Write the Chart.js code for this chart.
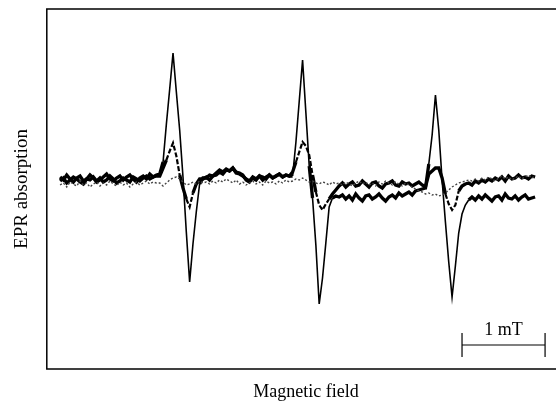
<!DOCTYPE html>
<html>
<head>
<meta charset="utf-8">
<script src="https://cdn.jsdelivr.net/npm/chart.js@4.4.0/dist/chart.umd.min.js"></script>
<style>
  html, body { margin: 0; padding: 0; background: #fff; overflow: hidden; }
  #wrap { width: 565px; height: 406px; }
</style>
</head>
<body>
<div id="wrap"><canvas id="eprChart"></canvas></div>
<script>
// Magnetic field sweep (mT), 0.04 mT steps
let field = [
  0.16,0.20,0.24,0.28,0.32,0.36,0.40,0.44,0.48,0.52,
  0.56,0.60,0.64,0.68,0.72,0.76,0.80,0.84,0.88,0.92,
  0.96,1.00,1.04,1.08,1.12,1.16,1.20,1.24,1.28,1.32,
  1.36,1.40,1.44,1.48,1.52,1.56,1.60,1.64,1.68,1.72,
  1.76,1.80,1.84,1.88,1.92,1.96,2.00,2.04,2.08,2.12,
  2.16,2.20,2.24,2.28,2.32,2.36,2.40,2.44,2.48,2.52,
  2.56,2.60,2.64,2.68,2.72,2.76,2.80,2.84,2.88,2.92,
  2.96,3.00,3.04,3.08,3.12,3.16,3.20,3.24,3.28,3.32,
  3.36,3.40,3.44,3.48,3.52,3.56,3.60,3.64,3.68,3.72,
  3.76,3.80,3.84,3.88,3.92,3.96,4.00,4.04,4.08,4.12,
  4.16,4.20,4.24,4.28,4.32,4.36,4.40,4.44,4.48,4.52,
  4.56,4.60,4.64,4.68,4.72,4.76,4.80,4.84,4.88,4.92,
  4.96,5.00,5.04,5.08,5.12,5.16,5.20,5.24,5.28,5.32,
  5.36,5.40,5.44,5.48,5.52,5.56,5.60,5.64,5.68,5.72,
  5.76,5.80,5.84,5.88
];

// EPR signal, arbitrary units - strong spectrum (thin solid line)
let strongSignal = [
  3,0,5,1,-2,2,4,-1,1,5,2,-2,0,3,6,1,-1,2,4,0,3,5,1,-2,2,4,1,6,3,5,
  6,18,56,91,127,88,50,3,-52,-102,-64,-32,-4,2,
  2,5,4,7,10,8,11,9,12,8,7,5,0,-2,2,0,4,3,1,5,2,4,6,3,5,
  4,4,38,79,120,67,14,-18,-65,-124,-98,-63,-27,-18,-16,
  -17,-15,-19,-16,-20,-14,-18,-21,-16,-15,-19,-17,-14,-18,-21,-17,-15,-18,-13,-16,-14,-12,-15,-11,-10,-9,
  -8,16,45,85,50,0,-42,-82,-117,-86,-53,-34,-25,-20,
  -17,-20,-16,-19,-15,-18,-21,-17,-16,-20,-14,-18,-19,-16,-20,-17,-15,-19,-18,-17
];

// medium spectrum (dashed line)
let mediumSignal = [
  -1,2,-3,0,3,1,-2,-4,1,0,3,-1,2,-2,0,4,1,-3,-1,2,0,-2,3,1,-1,2,4,1,3,4,
  4,12,20,29,37,24,5,-8,-19,-27,-13,-4,1,
  1,3,0,4,5,8,6,10,9,12,7,6,4,1,-1,3,1,4,0,3,5,2,4,6,3,5,4,
  8,18,28,38,34,25,5,-12,-25,-30,-24,-19,-14,-10,
  -6,-3,-7,-4,-2,-6,-5,-1,-4,-7,-3,-2,-6,-8,-4,-3,-1,-5,-6,-2,-4,-3,-6,-4,-2,-5,
  -7,6,9,12,12,2,-14,-24,-30,-25,-11,-6,-4,
  -3,-5,-1,-3,0,-2,1,-1,2,0,3,-1,4,1,2,5,2,3,1,4,3
];

// weak spectrum (dotted line)
let weakSignal = [
  -5,-3,-7,-2,-4,-6,-1,-5,-3,-7,-4,-2,-6,-3,-5,-1,-4,-6,-2,-5,-3,-7,-4,-2,-5,-3,-1,-4,-2,-3,
  -3,-6,-3,0,2,3,1,-2,-5,-4,-2,-4,-1,-3,
  -2,-4,-1,-3,0,-2,1,-1,-3,0,-4,-2,-5,-3,-1,-4,-2,-5,-1,-3,-2,-4,-1,-3,0,-2,
  -1,1,0,2,0,-2,-1,-3,-4,-2,-3,-5,-2,-4,
  -3,-5,-2,-4,-6,-3,-1,-4,-2,-5,-3,-6,-2,-4,-1,-3,-5,-2,-4,-6,-3,
  -5,-7,-9,-11,-12,-14,-13,-15,-14,-16,-15,-13,-10,-7,-5,-3,-2,-1,0,-1,
  1,-1,2,0,3,1,-1,2,4,1,3,0,2,4,1,3,5,2,4
];

// scale bar: 1 mT
let scaleBarFrom = 5.0;
let scaleBarTo = 6.0;
let scaleBarLevel = -165;
let scaleBarText = '1 mT';

let serif = '"Liberation Serif", "DejaVu Serif", serif';

function toPoints(values) {
  return values.map(function(v, i) { return {x: field[i], y: v}; });
}

// noisy baseline parts are drawn heavier than the resonance lines
function onBaseline(seg) {
  return Math.abs(seg.p0.parsed.y) < 24 && Math.abs(seg.p1.parsed.y) < 24;
}

// frame around the plot area plus the scale bar
let framePlugin = {
  id: 'frame',
  afterDatasetsDraw: function(chart) {
    let ctx = chart.ctx;
    let area = chart.chartArea;
    let xs = chart.scales.x;
    let ys = chart.scales.y;
    ctx.save();
    ctx.strokeStyle = '#000';
    ctx.lineWidth = 1.5;
    ctx.strokeRect(area.left, area.top, area.right - area.left, area.bottom - area.top);

    let x1 = xs.getPixelForValue(scaleBarFrom);
    let x2 = xs.getPixelForValue(scaleBarTo);
    let y = ys.getPixelForValue(scaleBarLevel);
    ctx.lineWidth = 1.2;
    ctx.beginPath();
    ctx.moveTo(x1, y); ctx.lineTo(x2, y);
    ctx.moveTo(x1, y - 12); ctx.lineTo(x1, y + 12);
    ctx.moveTo(x2, y - 12); ctx.lineTo(x2, y + 12);
    ctx.stroke();
    ctx.fillStyle = '#000';
    ctx.font = '18px ' + serif;
    ctx.textAlign = 'center';
    ctx.textBaseline = 'alphabetic';
    ctx.fillText(scaleBarText, (x1 + x2) / 2, y - 10);
    ctx.restore();
  }
};

let ctx = document.getElementById('eprChart');
let eprChart = new Chart(ctx, {
  type: 'line',
  data: {
    datasets: [
      { label: 'weak', data: toPoints(weakSignal), borderColor: '#444', borderWidth: 1.4, borderDash: [2, 2], pointRadius: 0, tension: 0 },
      { label: 'medium', data: toPoints(mediumSignal), borderColor: '#000', borderWidth: 2.2, pointRadius: 0, tension: 0,
        segment: {
          borderDash: function(seg) { return onBaseline(seg) ? [] : [5, 2]; },
          borderWidth: function(seg) { return onBaseline(seg) ? 3.3 : 2.2; }
        } },
      { label: 'strong', data: toPoints(strongSignal), borderColor: '#000', borderWidth: 1.6, pointRadius: 0, tension: 0,
        segment: { borderWidth: function(seg) { return onBaseline(seg) ? 3.3 : 1.6; } } }
    ]
  },
  options: {
    responsive: true,
    maintainAspectRatio: false,
    animation: false,
    layout: { padding: { top: 9, left: 0, right: 0, bottom: 0 } },
    plugins: { legend: { display: false }, tooltip: { enabled: false } },
    scales: {
      x: {
        type: 'linear', min: 0, max: 6.24,
        grid: { display: false, drawTicks: false },
        border: { display: false },
        ticks: { display: false },
        title: { display: true, text: 'Magnetic field', color: '#000',
                 font: { family: serif, size: 18 }, padding: { top: 12, bottom: 3.4 } }
      },
      y: {
        min: -189, max: 171,
        grid: { display: false, drawTicks: false },
        border: { display: false },
        ticks: { display: false },
        title: { display: true, text: 'EPR absorption', color: '#000',
                 font: { family: serif, size: 19 }, padding: { top: 11, bottom: 13 } }
      }
    }
  },
  plugins: [framePlugin]
});
</script>
</body>
</html>
